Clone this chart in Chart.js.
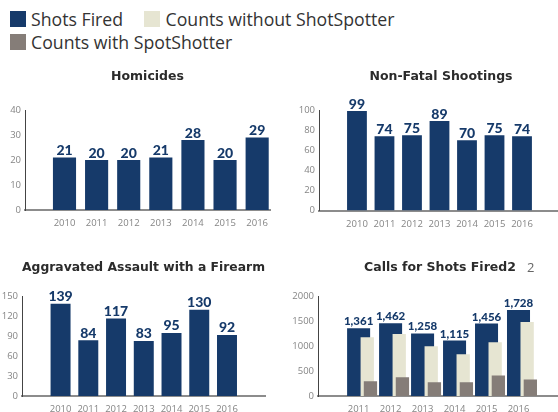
<!DOCTYPE html>
<html>
<head>
<meta charset="utf-8">
<script src="https://cdn.jsdelivr.net/npm/chart.js@4.4.1/dist/chart.umd.min.js"></script>
<style>
  html, body { margin: 0; padding: 0; background: #fff; overflow: hidden; }
  #page { position: relative; width: 558px; height: 412px; overflow: hidden; font-family: "Open Sans", sans-serif; }
  .item { position: absolute; height: 16px; font-size: 17.7px; line-height: 16px; color: #333; white-space: nowrap; }
  .item .box { position: absolute; left: 0; top: 0; width: 16px; height: 16px; }
  .item .txt { position: absolute; left: 21.5px; top: 0; }
  canvas { position: absolute; }
</style>
</head>
<body>
<div id="page">
  <div class="item" style="left:9.5px; top:10.5px"><span class="box" style="background:#163a6a"></span><span class="txt">Shots Fired</span></div>
  <div class="item" style="left:144px; top:10.5px"><span class="box" style="background:#e6e5d2"></span><span class="txt">Counts without ShotSpotter</span></div>
  <div class="item" style="left:9.5px; top:34px"><span class="box" style="background:#857d78"></span><span class="txt">Counts with SpotShotter</span></div>

  <canvas id="homicides" width="279" height="181" style="left:0; top:60px"></canvas>
  <canvas id="nonFatal" width="290" height="181" style="left:279px; top:60px"></canvas>
  <canvas id="aggAssault" width="279" height="181" style="left:0; top:250px"></canvas>
  <canvas id="calls" width="290" height="181" style="left:279px; top:250px"></canvas>
</div>

<script>
// data
const years = [2010, 2011, 2012, 2013, 2014, 2015, 2016];
const homicides = [21, 20, 20, 21, 28, 20, 29];
const nonFatal = [99, 74, 75, 89, 70, 75, 74];
const aggAssault = [139, 84, 117, 83, 95, 130, 92];

const callYears = [2011, 2012, 2013, 2014, 2015, 2016];
const shotsFired = [1361, 1462, 1258, 1115, 1456, 1728];
const countsWithout = [1180, 1245, 1000, 840, 1080, 1485];
const countsWith = [295, 375, 275, 275, 410, 330];

const NAVY = '#163a6a';
const CREAM = '#e6e5d2';
const GRAY = '#857d78';
const TICK = '#858585';
const TICK_FONT = { family: "'Open Sans', sans-serif", size: 9.5 };
const TITLE_FONT = { family: "'DejaVu Sans', sans-serif", size: 12.5, weight: 'bold', lineHeight: 1.2 };

function points(xs, ys) {
  return xs.map((x, i) => ({ x: x, y: ys[i] }));
}

// bar value labels (no datalabels plugin here)
const barLabels = {
  id: 'barLabels',
  afterDatasetsDraw(chart, args, opts) {
    const idx = opts.dataset || 0;
    const meta = chart.getDatasetMeta(idx);
    const ds = chart.data.datasets[idx];
    const ctx = chart.ctx;
    ctx.save();
    ctx.font = '900 ' + opts.size + 'px Lato, sans-serif';
    ctx.fillStyle = NAVY;
    ctx.textAlign = 'center';
    ctx.textBaseline = 'alphabetic';
    meta.data.forEach((bar, i) => {
      ctx.fillText(ds.data[i].y.toLocaleString('en-US'), bar.x, bar.y - opts.gap);
    });
    ctx.restore();
  }
};

// small grey footnote mark after the title
const titleNote = {
  id: 'titleNote',
  afterDraw(chart, args, opts) {
    if (!opts.text) return;
    const t = chart.titleBlock;
    const ctx = chart.ctx;
    ctx.save();
    ctx.font = 'bold ' + TITLE_FONT.size + 'px ' + TITLE_FONT.family;
    const w = ctx.measureText(t.options.text).width;
    const cx = t.left + t.width / 2;
    const cy = t.top + opts.padTop + TITLE_FONT.size * 1.2 / 2;
    ctx.font = '13px "Open Sans", sans-serif';
    ctx.fillStyle = '#666';
    ctx.textAlign = 'left';
    ctx.textBaseline = 'middle';
    ctx.fillText(opts.text, cx + w / 2 + 11, cy);
    ctx.restore();
  }
};

function yearTicks(list) {
  return scale => { scale.ticks = list.map(v => ({ value: v })); };
}

function makeChart(id, c) {
  const scales = {
    x: {
      type: 'linear',
      offset: false,
      min: c.xMin, max: c.xMax,
      afterBuildTicks: yearTicks(c.ticks),
      grid: { display: false, drawTicks: false, tickLength: 0 },
      border: { display: true, color: '#8c8c8c', width: 2 },
      ticks: { color: TICK, font: TICK_FONT, padding: 8, maxRotation: 0, autoSkip: false, callback: v => String(v) }
    },
    y: {
      min: 0, max: c.yMax,
      afterFit: s => { s.width = c.yWidth; },
      grid: { display: false, drawTicks: false, tickLength: 0 },
      border: { display: true, color: '#444', width: 1 },
      ticks: { stepSize: c.yStep, color: TICK, font: TICK_FONT, padding: 4, callback: v => String(v) }
    }
  };
  (c.shifts || []).forEach(s => {
    scales[s.id] = {
      type: 'linear', axis: 'x', display: false, offset: false,
      min: c.xMin - s.by, max: c.xMax - s.by,
      afterBuildTicks: yearTicks(c.ticks)
    };
  });

  return new Chart(document.getElementById(id), {
    type: 'bar',
    data: { datasets: c.datasets },
    options: {
      responsive: false,
      animation: false,
      layout: { padding: { left: 0, right: c.padRight, top: 0, bottom: c.padBottom } },
      plugins: {
        legend: { display: false },
        tooltip: { enabled: false },
        title: {
          display: true,
          text: c.title,
          fullSize: false,
          color: '#2b2b2b',
          font: TITLE_FONT,
          padding: { top: c.titleTop, bottom: c.titleBottom }
        },
        barLabels: { dataset: 0, size: c.labelSize, gap: c.labelGap },
        titleNote: { text: c.note, padTop: c.titleTop }
      },
      scales: scales
    },
    plugins: [barLabels, titleNote]
  });
}

makeChart('homicides', {
  title: 'Homicides',
  datasets: [{ data: points(years, homicides), backgroundColor: NAVY }],
  ticks: years, xMin: 2008.77, xMax: 2016.40,
  yMax: 40, yStep: 10, yWidth: 25, padRight: 9,
  titleTop: 9.5, titleBottom: 25.5, padBottom: 3.6,
  labelSize: 14, labelGap: 2.5
});

makeChart('nonFatal', {
  title: 'Non-Fatal Shootings',
  datasets: [{ data: points(years, nonFatal), backgroundColor: NAVY }],
  ticks: years, xMin: 2008.62, xMax: 2017.49,
  yMax: 100, yStep: 20, yWidth: 40, padRight: 6,
  titleTop: 9.5, titleBottom: 25.5, padBottom: 3,
  labelSize: 14, labelGap: 2.5
});

makeChart('aggAssault', {
  title: 'Aggravated Assault with a Firearm',
  datasets: [{ data: points(years, aggAssault), backgroundColor: NAVY }],
  ticks: years, xMin: 2008.61, xMax: 2017.37,
  yMax: 150, yStep: 30, yWidth: 22, padRight: 14,
  titleTop: 10.5, titleBottom: 21, padBottom: 7.6,
  labelSize: 14, labelGap: 2.5
});

makeChart('calls', {
  title: 'Calls for Shots Fired2',
  note: '2',
  datasets: [
    { data: points(callYears, shotsFired), backgroundColor: NAVY, grouped: false, order: 3 },
    { data: points(callYears, countsWithout), backgroundColor: CREAM, xAxisID: 'xCream', grouped: false, barPercentage: 0.52, order: 2 },
    { data: points(callYears, countsWith), backgroundColor: GRAY, xAxisID: 'xGray', grouped: false, barPercentage: 0.52, order: 1 }
  ],
  shifts: [{ id: 'xCream', by: 0.27 }, { id: 'xGray', by: 0.37 }],
  ticks: callYears, xMin: 2009.73, xMax: 2017.36,
  yMax: 2000, yStep: 500, yWidth: 39, padRight: 7,
  titleTop: 10.5, titleBottom: 21, padBottom: 7.6,
  labelSize: 11.5, labelGap: 3
});
</script>
</body>
</html>
